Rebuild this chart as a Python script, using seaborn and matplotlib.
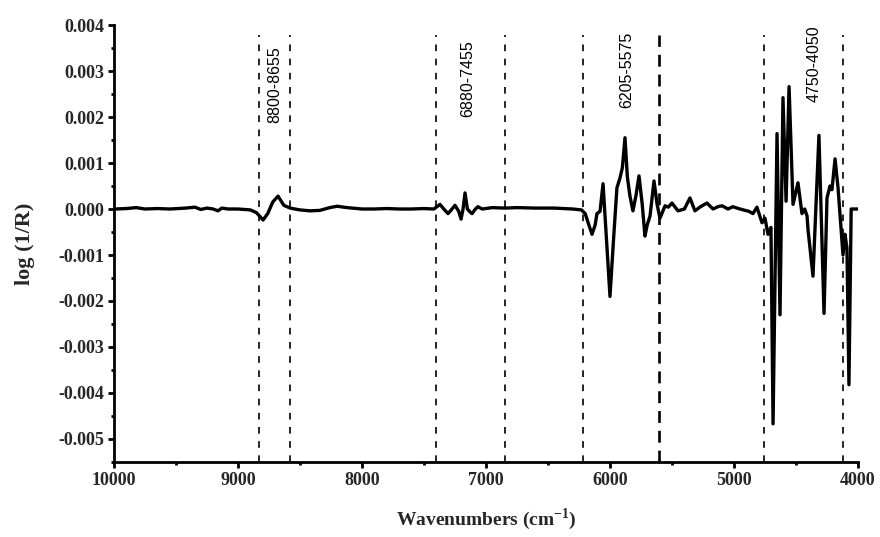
import matplotlib
matplotlib.use("Agg")
import matplotlib.pyplot as plt
from matplotlib.ticker import MultipleLocator, FuncFormatter
import numpy as np
import pandas as pd
import seaborn as sns

# Second-derivative NIR spectrum, wavenumber (cm-1) vs log(1/R) in units of 1e-3
wavenumber = [
    10000, 9990, 9900, 9820, 9750, 9650, 9550, 9420, 9347, 9300, 9250, 9200, 9161,
    9130, 9080, 9000, 8900, 8850, 8798, 8760, 8720, 8677, 8630, 8580, 8500, 8420,
    8340, 8260, 8200, 8120, 8000, 7900, 7800, 7700, 7600, 7500, 7420, 7371, 7340,
    7306, 7280, 7250, 7220, 7201, 7185, 7169, 7150, 7130, 7113, 7085, 7065, 7030,
    6950, 6850, 6750, 6600, 6450, 6300, 6230, 6200, 6170, 6145, 6120, 6105, 6080,
    6056, 6030, 6000, 5970, 5944, 5919, 5900, 5879, 5860, 5839, 5815, 5790, 5766,
    5740, 5718, 5700, 5677, 5645, 5620, 5597, 5556, 5530, 5500, 5452, 5400, 5355,
    5315, 5270, 5218, 5169, 5130, 5097, 5048, 5010, 4976, 4952, 4880, 4847, 4815,
    4774, 4750, 4726, 4702, 4685, 4653, 4629, 4605, 4580, 4556, 4524, 4484, 4452,
    4430, 4411, 4403, 4363, 4315, 4274, 4250, 4226, 4210, 4185, 4161, 4137, 4121,
    4105, 4089, 4073, 4056, 4055, 4000,
]
log_inv_r_milli = [
    0.00, 0.00, 0.01, 0.03, 0.00, 0.01, 0.00, 0.02, 0.04, -0.01, 0.02, 0.00, -0.04,
    0.02, 0.00, 0.00, -0.02, -0.08, -0.24, -0.10, 0.15, 0.28, 0.08, 0.02, -0.02, -0.04,
    -0.03, 0.03, 0.06, 0.03, 0.00, 0.00, 0.01, 0.00, 0.00, 0.01, 0.00, 0.10, 0.00,
    -0.10, -0.02, 0.08, -0.05, -0.22, 0.00, 0.35, 0.00, -0.06, -0.10, 0.00, 0.05, 0.00,
    0.03, 0.02, 0.03, 0.02, 0.02, 0.00, -0.02, -0.10, -0.35, -0.55, -0.35, -0.10, -0.05,
    0.55, -0.60, -1.90, -0.60, 0.46, 0.68, 0.90, 1.55, 0.70, 0.28, -0.04, 0.30, 0.72,
    0.10, -0.59, -0.35, -0.15, 0.61, 0.10, -0.20, 0.07, 0.04, 0.13, -0.04, 0.00, 0.24,
    -0.04, 0.05, 0.13, 0.00, 0.05, 0.07, 0.00, 0.05, 0.02, 0.00, -0.05, -0.10, 0.04,
    -0.30, -0.20, -0.55, -0.40, -4.67, 1.64, -2.30, 2.42, 0.17, 2.66, 0.10, 0.57, -0.10,
    0.00, -0.15, -0.45, -1.46, 1.60, -2.27, 0.24, 0.50, 0.42, 1.09, 0.46, -0.40, -1.00,
    -0.55, -0.85, -3.82, -0.30, 0.00, 0.00,
]

# Band-region boundaries (cm-1) and their labels
region_edges = [8830, 8580, 7400, 6850, 6215, 5605, 4758, 4120]
region_labels = ["8800-8655", "6880-7455", "6205-5575", "4750-4050"]
label_x = [8705, 7145, 5865, 4350]
label_y = [0.00271, 0.00284, 0.00302, 0.00315]

df = pd.DataFrame({
    "wn": wavenumber,
    "val": np.array(log_inv_r_milli) * 1e-3,
})

sns.set_theme(style="ticks")
plt.rcParams["font.family"] = ["Liberation Serif", "DejaVu Serif"]
plt.rcParams["mathtext.fontset"] = "custom"
plt.rcParams["mathtext.rm"] = "Liberation Serif"
plt.rcParams["mathtext.bf"] = "Liberation Serif:bold"

fig = plt.figure(figsize=(8.8, 5.37), dpi=100)
ax = fig.add_axes([0.1295, 0.1397, 0.8455, 0.8137])

# region boundary markers
for x in region_edges:
    heavy = (x == 5605)
    ax.plot([x, x], [-0.0055, 0.00378], color="black",
            lw=1.9 if heavy else 1.2,
            dashes=(4.5, 3) if heavy else (4, 4.5),
            zorder=1)

sns.lineplot(data=df, x="wn", y="val", ax=ax, color="black", lw=2.4,
             estimator=None, sort=False, zorder=3)

for txt, x, y in zip(region_labels, label_x, label_y):
    ax.text(x, y, txt, rotation=90, ha="center", va="center", fontsize=11.5,
            family=["Liberation Sans", "DejaVu Sans"], color="black")

ax.set_xlim(10000, 4000)
ax.set_ylim(-0.0055, 0.004)
ax.xaxis.set_major_locator(MultipleLocator(1000))
ax.xaxis.set_minor_locator(MultipleLocator(500))
ax.yaxis.set_major_locator(MultipleLocator(0.001))
ax.yaxis.set_minor_locator(MultipleLocator(0.0005))


def yfmt(v, _):
    s = f"{v:.3f}"
    return "0.000" if s in ("-0.000", "0.000") else s


ax.yaxis.set_major_formatter(FuncFormatter(yfmt))
ax.xaxis.set_major_formatter(FuncFormatter(lambda v, _: f"{int(round(v))}"))

for side in ("top", "right"):
    ax.spines[side].set_visible(False)
for side in ("left", "bottom"):
    ax.spines[side].set_linewidth(2.0)
    ax.spines[side].set_color("black")

ax.tick_params(axis="both", which="major", direction="out", length=4, width=2,
               color="black", labelsize=13, pad=3)
ax.tick_params(axis="both", which="minor", direction="out", length=2, width=2,
               color="black")
for lab in ax.get_xticklabels() + ax.get_yticklabels():
    lab.set_fontweight("bold")

ax.set_xlabel("Wavenumbers (cm$^{\\mathbf{-1}}$)", fontsize=14, fontweight="bold",
              labelpad=13)
ax.set_ylabel("log (1/R)", fontsize=16, fontweight="bold", labelpad=17)
ax.grid(False)

fig.savefig("out.png", dpi=100)
